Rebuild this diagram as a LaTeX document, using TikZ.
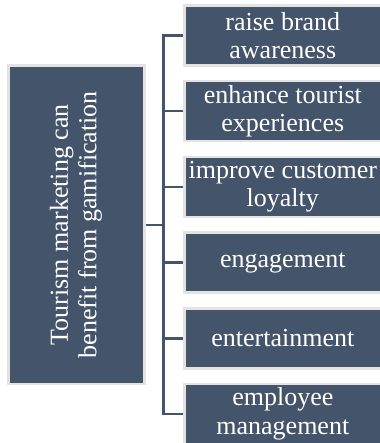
\documentclass[tikz,border=0pt]{standalone}
\usepackage{fontspec}
\setmainfont{Liberation Serif}
\newfontfamily\cardfont{Liberation Serif}
\definecolor{slate}{HTML}{44546A}
\definecolor{rim}{HTML}{E3E3E3}

\begin{document}
\begin{tikzpicture}[x=1pt,y=1pt]
				\tikzstyle{card}=[rectangle,draw=rim,fill=slate,line width=2.5pt,text=white,font=\cardfont\fontsize{26}{28.5}\selectfont,align=center,inner sep=0pt]
				\tikzstyle{leaf}=[card,minimum width=197pt,minimum height=60pt]
				\tikzstyle{level 1}=[level distance=206.3pt,sibling distance=75.7pt]
				\tikzstyle{edge from parent}=[draw=slate,line width=2.5pt]
				
				\useasboundingbox (0,0) rectangle (379,-443);
				
				\node[card,minimum width=136pt,minimum height=318.5pt] (root) at (76.5,-224.75) {\rotatebox{90}{\begin{tabular}{@{}c@{}}Tourism marketing can\\benefit from gamification\end{tabular}}}
				[grow'=right,edge from parent path={(\tikzchildnode.west) -- ++(-19.8pt,0pt) |- (\tikzparentnode.east)}]
				child {node[leaf] (b1) {raise brand\\awareness}}
				child {node[leaf] (b2) {enhance tourist\\experiences}}
				child {node[leaf] (b3) {improve customer\\loyalty}}
				child {node[leaf] (b4) {engagement}}
				child {node[leaf] (b5) {entertainment}}
				child {node[leaf] (b6) {employee\\management}}
				;
\end{tikzpicture}
\end{document}
